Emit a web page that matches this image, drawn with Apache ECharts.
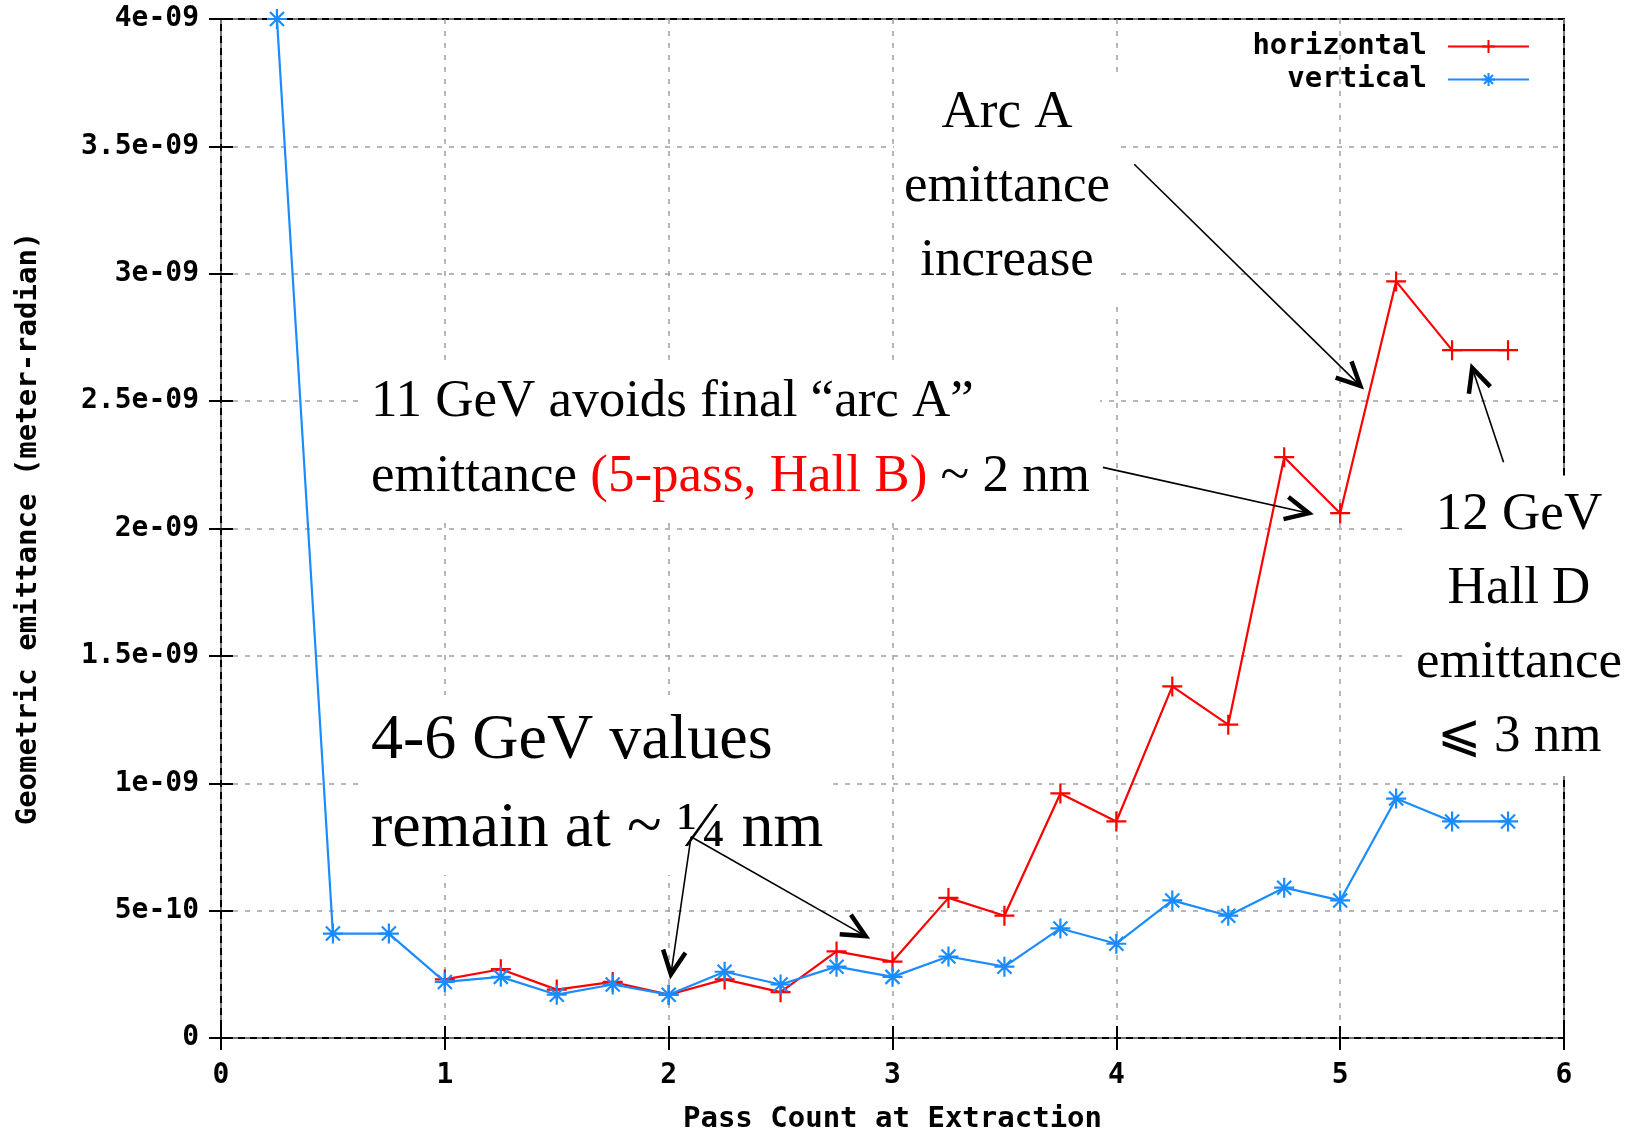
<!DOCTYPE html>
<html><head><meta charset="utf-8">
<script src="https://cdn.jsdelivr.net/npm/echarts@6/dist/echarts.min.js"></script>
<style>html,body{margin:0;padding:0;background:#fff}#c{width:1639px;height:1132px}</style>
</head><body><div id="c"></div>
<script>
const passVertical = [0.25,0.5,0.75,1,1.25,1.5,1.75,2,2.25,2.5,2.75,3,3.25,3.5,3.75,4,4.25,4.5,4.75,5,5.25,5.5,5.75];
const vertical = [4.0e-9,0.41e-9,0.41e-9,0.22e-9,0.24e-9,0.17e-9,0.21e-9,0.17e-9,0.26e-9,0.21e-9,0.28e-9,0.24e-9,0.32e-9,0.28e-9,0.43e-9,0.37e-9,0.54e-9,0.48e-9,0.59e-9,0.54e-9,0.94e-9,0.85e-9,0.85e-9];
const passHorizontal = [1,1.25,1.5,1.75,2,2.25,2.5,2.75,3,3.25,3.5,3.75,4,4.25,4.5,4.75,5,5.25,5.5,5.75];
const horizontal = [0.23e-9,0.27e-9,0.19e-9,0.22e-9,0.17e-9,0.23e-9,0.18e-9,0.34e-9,0.30e-9,0.55e-9,0.48e-9,0.96e-9,0.85e-9,1.38e-9,1.23e-9,2.28e-9,2.06e-9,2.97e-9,2.70e-9,2.70e-9];
const xTickLabels = ["0","1","2","3","4","5","6"];
const yTickLabels = ["0","5e-10","1e-09","1.5e-09","2e-09","2.5e-09","3e-09","3.5e-09","4e-09"];

const mono = '"DejaVu Sans Mono","Liberation Mono",monospace';
const serif = '"Liberation Serif","DejaVu Serif",serif';
const RED = '#ff0000', BLUE = '#1a8cff';
const plusPath = 'path://M0,5L10,5M5,0L5,10';
const starPath = 'path://M0,5L10,5M5,0L5,10M1.5,1.5L8.5,8.5M8.5,1.5L1.5,8.5';

const chart = echarts.init(document.getElementById('c'), null, {renderer:'canvas'});
const gridLine = {show:true, lineStyle:{color:'#a0a0a0', type:[5,7], width:1.5}};
const tickStyle = {inside:true, length:12, lineStyle:{color:'#000', width:2}};
const option = {
  animation:false,
  backgroundColor:'#fff',
  grid:{left:221, right:75, top:19, bottom:94, outerBoundsMode:'none', containLabel:false,
    show:true, borderColor:'#000', borderWidth:2, backgroundColor:'transparent'},
  legend:{
    orient:'vertical', right:104, top:27, align:'right', itemWidth:81, itemHeight:16, itemGap:4,
    textStyle:{fontFamily:mono, fontWeight:'bold', fontSize:29, color:'#000', padding:[0,16,0,0]},
    data:['horizontal','vertical']
  },
  xAxis:[{
    type:'value', min:0, max:6, interval:1,
    name:'Pass Count at Extraction', nameLocation:'middle', nameGap:67,
    nameTextStyle:{fontFamily:mono, fontWeight:'bold', fontSize:29, color:'#000'},
    axisLine:{show:false}, axisTick:tickStyle,
    axisLabel:{fontFamily:mono, fontWeight:'bold', fontSize:28, color:'#000', margin:24,
      formatter:v=>xTickLabels[Math.round(v)]},
    splitLine:gridLine
  },{
    type:'value', min:0, max:6, interval:1, position:'top',
    axisLine:{show:false}, axisTick:tickStyle,
    axisLabel:{show:false}, splitLine:{show:false}
  }],
  yAxis:[{
    type:'value', min:0, max:4e-9, interval:0.5e-9,
    name:'Geometric emittance (meter-radian)', nameLocation:'middle', nameGap:178,
    nameTextStyle:{fontFamily:mono, fontWeight:'bold', fontSize:29, color:'#000'},
    axisLine:{show:false}, axisTick:tickStyle,
    axisLabel:{fontFamily:mono, fontWeight:'bold', fontSize:28, color:'#000', margin:22,
      formatter:v=>yTickLabels[Math.round(v/0.5e-9)]},
    splitLine:gridLine
  },{
    type:'value', min:0, max:4e-9, interval:0.5e-9, position:'right',
    axisLine:{show:false}, axisTick:tickStyle,
    axisLabel:{show:false}, splitLine:{show:false}
  }],
  series:[{
    name:'horizontal', type:'line', clip:false,
    data:passHorizontal.map((x,i)=>[x,horizontal[i]]),
    symbol:plusPath, symbolSize:20, showAllSymbol:true,
    lineStyle:{color:RED, width:2.2},
    itemStyle:{color:RED, borderColor:RED, borderWidth:2.2},
    emphasis:{disabled:true}, z:3
  },{
    name:'vertical', type:'line', clip:false,
    data:passVertical.map((x,i)=>[x,vertical[i]]),
    symbol:starPath, symbolSize:20, showAllSymbol:true,
    lineStyle:{color:BLUE, width:2.2},
    itemStyle:{color:BLUE, borderColor:BLUE, borderWidth:2.2},
    emphasis:{disabled:true}, z:4
  }]
};
chart.setOption(option);

function P(x,y){ return chart.convertToPixel({gridIndex:0},[x,y]); }
function arrow(a,b){
  const p0=P(a[0],a[1]), p1=P(b[0],b[1]);
  const ang=Math.atan2(p1[1]-p0[1], p1[0]-p0[0]);
  const L=26, w=0.45;
  const h1=[p1[0]-L*Math.cos(ang-w), p1[1]-L*Math.sin(ang-w)];
  const h2=[p1[0]-L*Math.cos(ang+w), p1[1]-L*Math.sin(ang+w)];
  return [
    {type:'polyline', z:100, shape:{points:[p0,p1]}, style:{stroke:'#000', lineWidth:1.6, fill:null}},
    {type:'polyline', z:100, shape:{points:[h1,p1,h2]}, style:{stroke:'#000', lineWidth:4.5, fill:null}}
  ];
}
const txt = (x,y,text,size,align,lh)=>({
  type:'text', z:90, x:x, y:y,
  style:{text:text, font:size+'px '+serif, fill:'#000', align:align, verticalAlign:'middle',
    lineHeight:lh, backgroundColor:'#fff', padding:[2,10,2,10]}
});
const graphics = [
  txt(1007,187,'Arc A\nemittance\nincrease',53,'center',74),
  {type:'text', z:90, x:361, y:440, style:{
    text:'11 GeV avoids final “arc A”\nemittance {r|(5-pass, Hall B)} ~ 2 nm',
    font:'53px '+serif, fill:'#000', align:'left', verticalAlign:'middle', lineHeight:75,
    backgroundColor:'#fff', padding:[2,10,2,10],
    rich:{r:{fill:RED, font:'53px '+serif, lineHeight:75}}
  }},
  txt(361,785,'4-6 GeV values\nremain at ~ ¼ nm',64,'left',88),
  txt(1519,626,'12 GeV\nHall D\nemittance\n⩽ 3 nm',53,'center',74),
  ...arrow([4.08,3.43e-9],[5.09,2.56e-9]),
  ...arrow([3.94,2.24e-9],[4.86,2.06e-9]),
  ...arrow([5.73,2.26e-9],[5.59,2.63e-9]),
  ...arrow([2.10,0.79e-9],[2.01,0.25e-9]),
  ...arrow([2.10,0.79e-9],[2.88,0.40e-9])
];
chart.setOption({graphic:graphics});
</script></body></html>
